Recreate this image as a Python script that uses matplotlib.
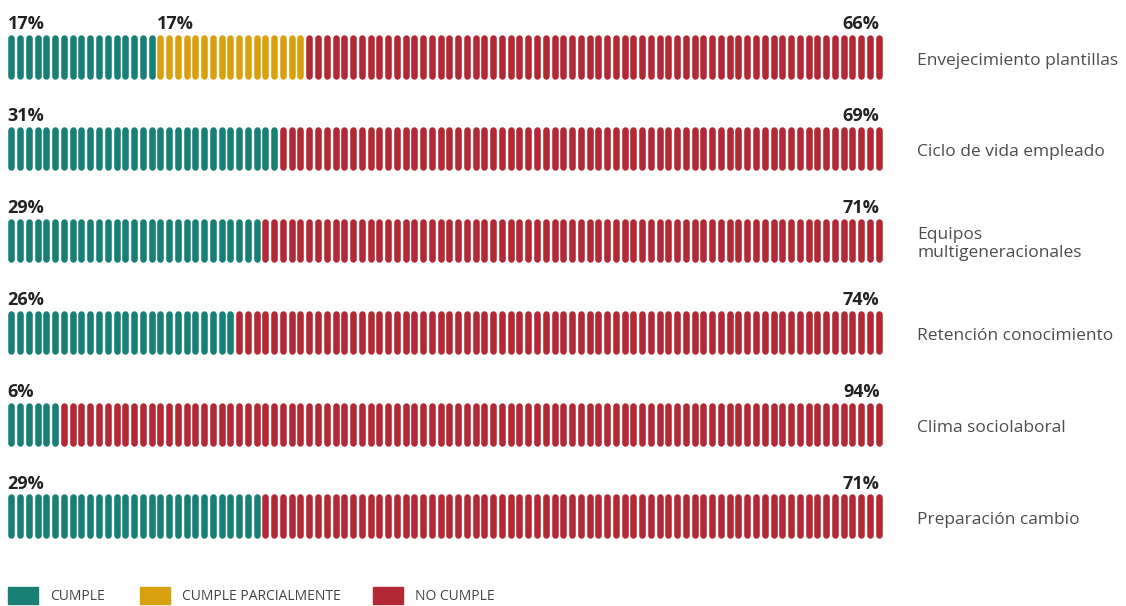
import numpy as np
import matplotlib
matplotlib.use('Agg')
from matplotlib import pyplot as plt
from matplotlib.patches import Rectangle

# data (percent of 100 blocks per row)
categories = ['Envejecimiento plantillas', 'Ciclo de vida empleado',
              'Equipos\nmultigeneracionales', 'Retención conocimiento',
              'Clima sociolaboral', 'Preparación cambio']
cumple = [17, 31, 29, 26, 6, 29]
parcial = [17, 0, 0, 0, 0, 0]
no_cumple = [66, 69, 71, 74, 94, 71]

legend_labels = ['CUMPLE', 'CUMPLE PARCIALMENTE', 'NO CUMPLE']
colors = ['#177f74', '#d9a00e', '#b22834']

plt.rcParams['font.family'] = ['Open Sans', 'DejaVu Sans']

fig = plt.figure(figsize=(11.26, 6.06), dpi=100)
ax = fig.add_axes([7 / 1126, 1 - 562 / 606, 876 / 1126, 551 / 606])
ax.set_xlim(0, 100)
ax.set_ylim(len(categories) - 0.5, -0.5)
ax.axis('off')

half = 0.203  # half height of each pill (row units), caps add the rest
for r, cat in enumerate(categories):
    counts = [cumple[r], parcial[r], no_cumple[r]]
    start = 0
    for n, col in zip(counts, colors):
        if n == 0:
            continue
        xs = np.arange(start, start + n) + 0.5
        ax.vlines(xs, r - half, r + half, colors=col, linewidth=4.7,
                  capstyle='round')
        start += n

    # percentage labels
    lab_y = r - 0.30
    ax.text(0.05, lab_y, f'{cumple[r]}%', ha='left', va='baseline',
            fontsize=13, fontweight='bold', color='#222222')
    if parcial[r]:
        ax.text(cumple[r] + 0.1, lab_y, f'{parcial[r]}%', ha='left',
                va='baseline', fontsize=13, fontweight='bold', color='#222222')
    ax.text(99.6, lab_y, f'{no_cumple[r]}%', ha='right', va='baseline',
            fontsize=13, fontweight='bold', color='#222222')

    # category label on the right
    ax.text(103.9, r + 0.04, cat, ha='left', va='center', fontsize=12.5,
            color='#4d4d4d', linespacing=1.15, clip_on=False)

# legend drawn by hand (uneven spacing in the original)
leg_x = [8, 140, 373]
for lx, lab, col in zip(leg_x, legend_labels, colors):
    fig.patches.append(Rectangle((lx / 1126, 2 / 606), 30 / 1126, 17 / 606,
                                 transform=fig.transFigure, color=col))
    fig.text((lx + 42) / 1126, 10 / 606, lab, ha='left', va='center',
             fontsize=10, color='#444444')

fig.savefig('out.png', dpi=100)
